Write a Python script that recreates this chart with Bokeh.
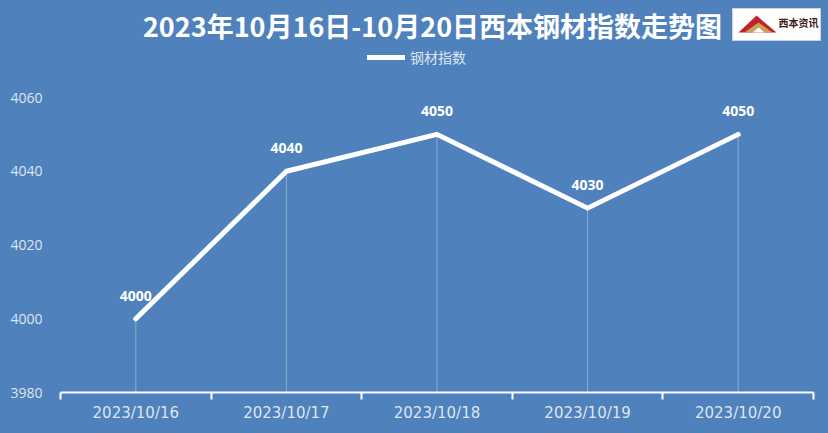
from bokeh.plotting import figure
from bokeh.models import FixedTicker, Label, Legend, LegendItem, ColumnDataSource
from bokeh.core.properties import value
from bokeh.embed import file_html
from bokeh.resources import INLINE

dates = ["2023/10/16", "2023/10/17", "2023/10/18", "2023/10/19", "2023/10/20"]
index_values = [4000, 4040, 4050, 4030, 4050]
y_ticks = [3980, 4000, 4020, 4040, 4060]
title_text = "2023年10月16日-10月20日西本钢材指数走势图"
series_name = "钢材指数"
logo_text = "西本资讯"

BG = "#4f81bd"
LIGHT = "#dde5ef"

# page geometry (pixels)
W, H = 828, 433
AX_LEFT, AX_RIGHT = 60, 813      # x axis line extent
AX_BOTTOM, Y_TOP_TICK = 392, 97  # y of axis line / of top tick

n = len(dates)
px_per_x = (AX_RIGHT - AX_LEFT) / n
px_per_y = (AX_BOTTOM - Y_TOP_TICK) / (y_ticks[-1] - y_ticks[0])
x_end = (W - AX_LEFT) / px_per_x
y_end = y_ticks[0] + AX_BOTTOM / px_per_y


def px2x(px):
    return (px - AX_LEFT) / px_per_x


def px2y(py):
    return y_ticks[0] + (AX_BOTTOM - py) / px_per_y


xs = [i + 0.5 for i in range(n)]
src = ColumnDataSource(dict(
    x=xs, y=index_values, base=[y_ticks[0]] * n,
    lab=[str(v) for v in index_values]))

p = figure(width=W, height=H, x_range=(0, x_end), y_range=(y_ticks[0], y_end),
           output_backend="svg", toolbar_location=None,
           min_border_left=AX_LEFT, min_border_right=0,
           min_border_top=0, min_border_bottom=H - AX_BOTTOM)
p.background_fill_color = BG
p.border_fill_color = BG
p.outline_line_color = None
p.grid.visible = False
p.styles = {"background-color": BG}

xa = p.xaxis[0]
xa.bounds = (0, n)
xa.ticker = FixedTicker(ticks=xs, minor_ticks=list(range(n + 1)))
xa.major_label_overrides = {x: d for x, d in zip(xs, dates)}
xa.axis_line_color = "white"
xa.axis_line_width = 2
xa.major_tick_line_color = None
xa.major_tick_out = 0
xa.major_tick_in = 0
xa.minor_tick_line_color = "white"
xa.minor_tick_line_width = 2
xa.minor_tick_out = 7
xa.minor_tick_in = 0
xa.major_label_text_color = LIGHT
xa.major_label_text_font = "DejaVu Sans"
xa.major_label_text_font_size = "15px"
xa.major_label_standoff = 4

ya = p.yaxis[0]
ya.ticker = FixedTicker(ticks=y_ticks, minor_ticks=[])
ya.axis_line_color = None
ya.major_tick_line_color = None
ya.minor_tick_line_color = None
ya.major_label_text_color = LIGHT
ya.major_label_text_font = "Open Sans"
ya.major_label_text_font_size = "14px"
ya.major_label_standoff = 12

p.segment(x0="x", y0="y", x1="x", y1="base", source=src,
          line_color="white", line_alpha=0.35, line_width=1)
r = p.line("x", "y", source=src, line_color="white", line_width=5,
           line_join="round", line_cap="round")
p.text(x="x", y="y", text="lab", source=src, text_color="white",
       text_font=value("Open Sans"), text_font_style="bold",
       text_font_size="14px", text_align="center",
       text_baseline="alphabetic", y_offset=-23)

# title
p.add_layout(Label(x=px2x(432), y=px2y(25), text=title_text,
                   text_align="center", text_baseline="middle",
                   text_font="Noto Sans CJK SC", text_font_size="27px",
                   text_font_style="bold", text_color="white"))

# legend
legend = Legend(items=[LegendItem(label=series_name, renderers=[r])],
                location=(367 - AX_LEFT, AX_BOTTOM - 67),
                orientation="horizontal",
                background_fill_alpha=0, border_line_color=None,
                label_text_color=LIGHT, label_text_font="Noto Sans CJK SC",
                label_text_font_size="14px", glyph_width=38,
                glyph_height=16, label_height=16, padding=0, margin=0,
                spacing=0, label_standoff=5)
p.add_layout(legend)

# logo
p.quad(left=[px2x(732)], right=[px2x(820)], top=[px2y(8)], bottom=[px2y(40)],
       fill_color="white", line_color="#c8d4e4", line_width=1)
p.patch(x=[px2x(738), px2x(756), px2x(776)],
        y=[px2y(32), px2y(15), px2y(32)], fill_color="#c0232b",
        line_color=None)
p.patch(x=[px2x(744), px2x(758), px2x(772)],
        y=[px2y(32), px2y(22), px2y(32)], fill_color="#c9a25a",
        line_color=None)
p.patch(x=[px2x(752), px2x(758), px2x(764)],
        y=[px2y(32), px2y(27), px2y(32)], fill_color="white",
        line_color=None)
p.add_layout(Label(x=px2x(798), y=px2y(22), text=logo_text,
                   text_align="center", text_baseline="middle",
                   text_font="Noto Sans CJK SC", text_font_size="10px",
                   text_font_style="bold", text_color="#3b1c1c"))

open("out.html", "w").write(file_html(p, INLINE))
